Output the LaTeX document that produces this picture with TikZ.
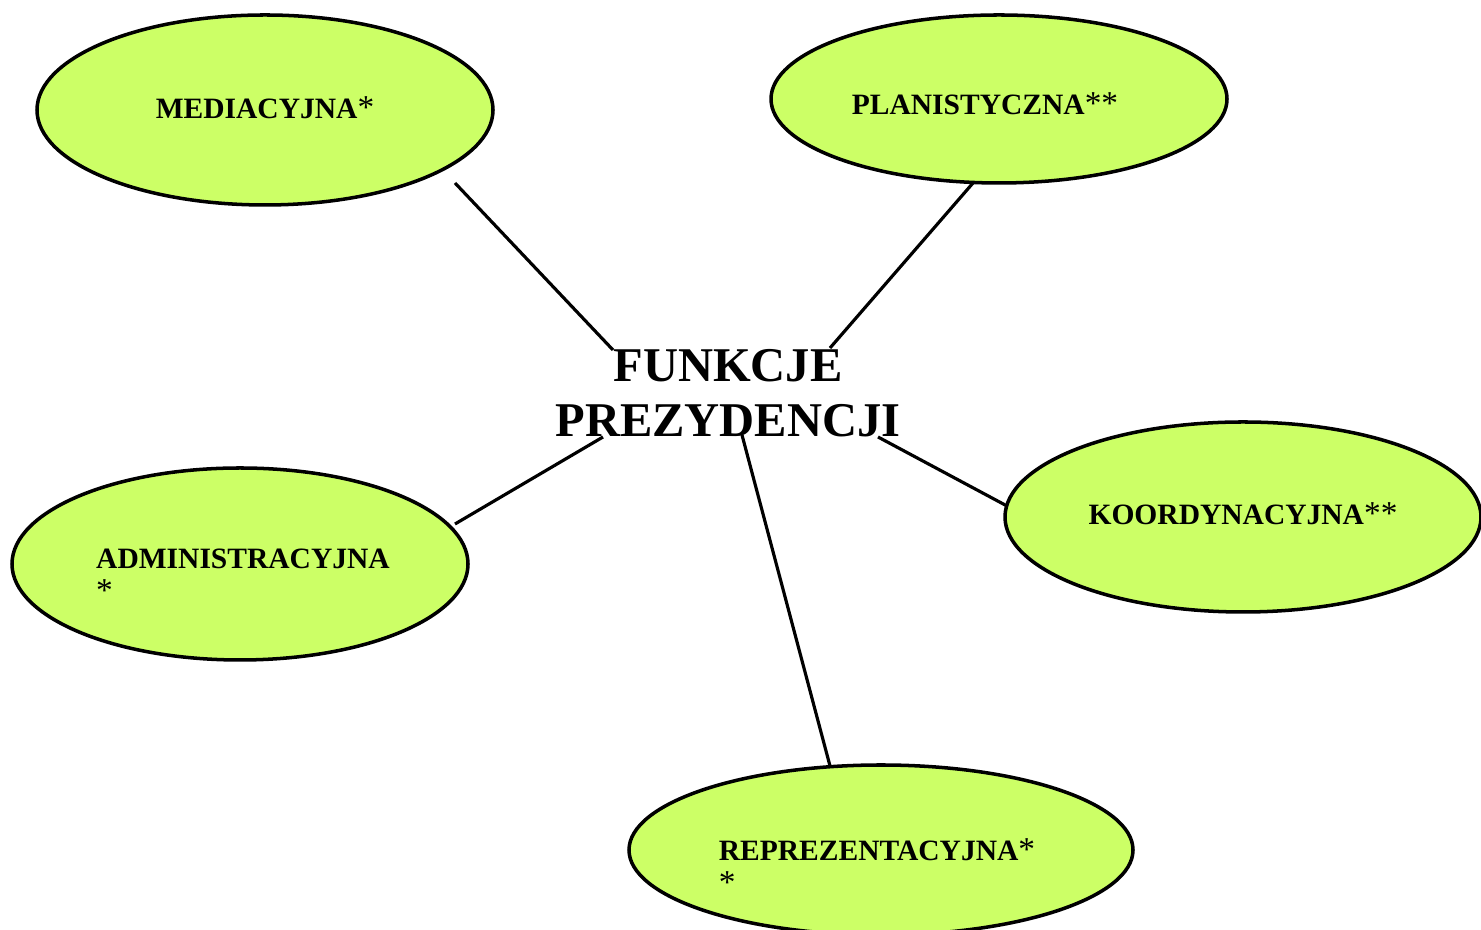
\documentclass[tikz,border=0pt]{standalone}
\usepackage{fontspec}
\setmainfont{Liberation Serif}
\usetikzlibrary{shapes.geometric}

\definecolor{limefill}{RGB}{204,255,102}

\tikzset{
  funkcja/.style={ellipse, draw=black, line width=1pt, fill=limefill, inner sep=0pt},
  napis/.style={inner sep=0pt, align=left, font=\bfseries\fontsize{8.4}{9.3}\selectfont},
  tytul/.style={align=center, inner sep=0pt, font=\bfseries\fontsize{13.8}{15.6}\selectfont},
  linia/.style={line width=0.9pt}
}

\newcommand{\gw}{{\mdseries\fontsize{9.5}{9.3}\selectfont*}}

\begin{document}
\begin{tikzpicture}

\useasboundingbox (0, 0) rectangle (14.81, 9.30);

\def\rx{4.56cm}; % ellipse width
\def\ry{1.90cm}; % ellipse height

% ellipses
\node[funkcja, minimum width=\rx, minimum height=\ry] (med) at (2.65, 8.20) {};
\node[funkcja, minimum width=\rx, minimum height=1.68cm] (pla) at (9.99, 8.31) {};
\node[funkcja, minimum width=4.76cm, minimum height=\ry] (koo) at (12.43, 4.13) {};
\node[funkcja, minimum width=\rx, minimum height=1.92cm] (adm) at (2.40, 3.66) {};
\node[funkcja, minimum width=5.04cm, minimum height=1.70cm] (rep) at (8.81, 0.80) {};

% texts
\node[napis, yshift=0.02cm] (med-t) at (med) {MEDIACYJNA\gw};
\node[napis, xshift=-0.14cm, yshift=-0.05cm] (pla-t) at (pla) {PLANISTYCZNA\gw\gw};
\node[napis, yshift=0.03cm] (koo-t) at (koo) {KOORDYNACYJNA\gw\gw};
\node[napis, xshift=0.03cm, yshift=-0.11cm] (adm-t) at (adm) {ADMINISTRACYJNA\\\gw};
\node[napis, xshift=-0.04cm, yshift=-0.16cm] (rep-t) at (rep) {REPREZENTACYJNA\gw\\\gw};

% centre
\node[tytul] (fun) at (7.28, 5.37) {FUNKCJE\\PREZYDENCJI};

% line ends
\coordinate (med-k) at (4.55, 7.47);
\coordinate (fun-nw) at (6.13, 5.80);
\coordinate (pla-k) at (9.73, 7.47);
\coordinate (fun-ne) at (8.30, 5.82);
\coordinate (fun-sw) at (6.03, 4.93);
\coordinate (adm-k) at (4.55, 4.06);
\coordinate (fun-s) at (7.42, 4.95);
\coordinate (rep-k) at (8.30, 1.64);
\coordinate (fun-se) at (8.78, 4.93);
\coordinate (koo-k) at (10.07, 4.24);

\draw[linia] (med-k) -- (fun-nw);
\draw[linia] (pla-k) -- (fun-ne);
\draw[linia] (fun-sw) -- (adm-k);
\draw[linia] (fun-s) -- (rep-k);
\draw[linia] (fun-se) -- (koo-k);

\end{tikzpicture}
\end{document}
